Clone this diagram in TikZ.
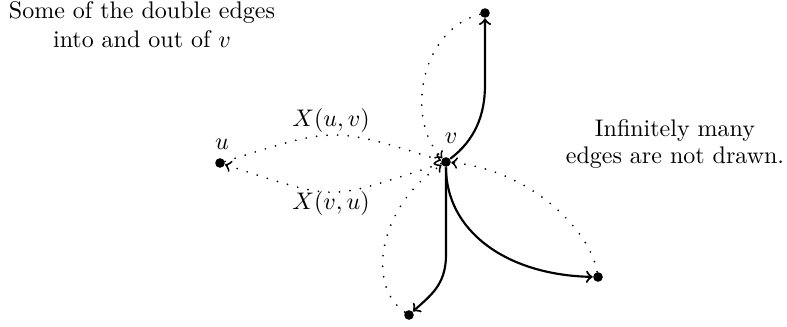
\documentclass[tikz,border=0pt]{standalone}
\begin{document}
\begin{tikzpicture}[x=0.4167pt,y=-0.4167pt,
  vert/.style={circle,fill,inner sep=0pt,minimum size=4pt},
  solidedge/.style={line width=0.9pt,->},
  dotedge/.style={line width=0.8pt,line cap=round,dash pattern=on 0pt off 4.4pt,->},
  lab/.style={anchor=base,inner sep=0pt}]
\useasboundingbox (0,0) rectangle (787,326);
% vertices
\node[vert] (u) at (220,163) {};
\node[vert] (v) at (446,162) {};
\node[vert] (t) at (485,13) {};
\node[vert] (b) at (409,315) {};
\node[vert] (r) at (598,277) {};
% vertex labels
\node[lab] (ul) at (222,149) {$u$};
\node[lab] (vl) at (451,143) {$v$};
% u--v double edges
\draw[dotedge] (u) .. controls (335,127) and (331,126) .. (v);
\draw[dotedge] (v) .. controls (325,201) and (341,202) .. (u);
\node[lab] (xuv) at (331,126) {$X(u,v)$};
\node[lab] (xvu) at (331,209) {$X(v,u)$};
% solid edges out of v
\draw[solidedge] (v) .. controls (475,140) and (485,115) .. (485,85) -- (t);
\draw[solidedge] (v) -- (446,255) .. controls (446,285) and (430,296) .. (b);
\draw[solidedge] (v) .. controls (446,230) and (505,275) .. (r);
% dotted edges into v
\draw[dotedge] (t) .. controls (420,30) and (405,120) .. (v);
\draw[dotedge] (b) .. controls (365,285) and (380,205) .. (v);
\draw[dotedge] (r) .. controls (590,230) and (530,170) .. (v);
% captions
\node[lab] (c1) at (142,18) {Some of the double edges};
\node[lab] (c2) at (142,47) {into and out of $v$};
\node[lab] (c3) at (675,136) {Infinitely many};
\node[lab] (c4) at (675,163) {edges are not drawn.};
\end{tikzpicture}
\end{document}
